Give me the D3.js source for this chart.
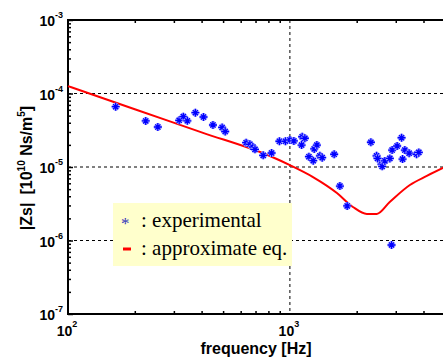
<!DOCTYPE html>
<html>
<head>
<meta charset="utf-8">
<title>|Zs| vs frequency</title>
<script src="https://d3js.org/d3.v7.min.js"></script>
<style>
  body { margin: 0; background: #fff; }
  text { font-family: "Liberation Sans", Arial, sans-serif; font-weight: bold; }
</style>
</head>
<body>
<div id="chart"></div>
<script>
// experimental points (frequency in Hz, |Zs|)
var expFreq = [164, 224, 254, 317, 331, 345, 375, 408, 450, 495, 511, 635, 660, 681, 696, 758, 827,
  897, 955, 1000, 1042, 1136, 1168, 1129, 1287, 1323, 1218, 1274, 1365, 1398, 1583, 1680, 1812,
  2317, 2458, 2483, 2588, 2605, 2679, 2821, 2889, 3043, 3186, 3296, 3446, 3219, 3722, 3811, 2871];
var expZs = [6.61e-5, 4.23e-5, 3.50e-5, 4.32e-5, 4.84e-5, 4.25e-5, 5.48e-5, 4.79e-5, 3.73e-5, 3.45e-5, 3.04e-5,
  2.14e-5, 2.04e-5, 1.87e-5, 1.74e-5, 1.44e-5, 1.55e-5,
  2.24e-5, 2.24e-5, 2.33e-5, 2.26e-5, 2.58e-5, 2.46e-5, 1.99e-5, 1.76e-5, 1.99e-5, 1.38e-5, 1.22e-5,
  1.42e-5, 1.34e-5, 1.49e-5, 5.51e-6, 2.95e-6,
  2.17e-5, 1.42e-5, 1.31e-5, 1.09e-5, 1.02e-5, 1.21e-5, 1.31e-5, 1.70e-5, 1.93e-5, 2.50e-5, 1.70e-5,
  1.54e-5, 1.28e-5, 1.49e-5, 1.58e-5, 8.69e-7];

// approximate equation curve
var approxFreq = [100, 200, 400, 813, 1000, 1271, 1629, 1923, 2222, 2464, 2818, 3473, 4141, 5000];
var approxZs = [1.26e-4, 6.1e-5, 2.96e-5, 1.41e-5, 1.06e-5, 7.3e-6, 4.43e-6, 2.86e-6, 2.30e-6, 2.30e-6,
  3.34e-6, 5.69e-6, 7.55e-6, 1.0e-5];

var yTickExp = [-7, -6, -5, -4, -3];
var xTickExp = [2, 3];
var legendLabels = [': experimental', ': approximate eq.'];

var width = 443, height = 361;
var pL = 68, pR = 445, pT = 20, pB = 314;

var x = d3.scaleLog().domain([100, 5000]).range([pL, pR]);
var y = d3.scaleLog().domain([1e-7, 1e-3]).range([pB, pT]);

var svg = d3.select('#chart').append('svg')
  .attr('width', width)
  .attr('height', height);

// minor tick positions
var xMinor = [], yMinor = [];
for (var k = 2; k <= 9; k++) {
  xMinor.push(k * 100);
  if (k * 1000 < 5000) xMinor.push(k * 1000);
}
yTickExp.slice(0, -1).forEach(function (e) {
  for (var k = 2; k <= 9; k++) yMinor.push(k * Math.pow(10, e));
});

// grid lines at decades
var grid = svg.append('g').attr('stroke', '#000').attr('stroke-width', 1).attr('stroke-dasharray', '3,3');
grid.selectAll('line.h')
  .data(yTickExp.slice(1, -1))
  .enter().append('line')
  .attr('x1', pL).attr('x2', pR)
  .attr('y1', function (d) { return y(Math.pow(10, d)); })
  .attr('y2', function (d) { return y(Math.pow(10, d)); });
grid.selectAll('line.v')
  .data([3])
  .enter().append('line')
  .attr('y1', pT).attr('y2', pB)
  .attr('x1', function (d) { return x(Math.pow(10, d)); })
  .attr('x2', function (d) { return x(Math.pow(10, d)); });

// ticks (inside)
function tickStyle(g) {
  g.select('.domain').remove();
  g.selectAll('line').attr('stroke', '#000').attr('stroke-width', 1.5);
}
svg.append('g').attr('transform', 'translate(' + pL + ',0)')
  .call(d3.axisLeft(y).tickValues(yMinor).tickSize(-3).tickFormat(''))
  .call(tickStyle);
svg.append('g').attr('transform', 'translate(' + pL + ',0)')
  .call(d3.axisLeft(y).tickValues(yTickExp.map(function (e) { return Math.pow(10, e); })).tickSize(-5).tickFormat(''))
  .call(tickStyle);
svg.append('g').attr('transform', 'translate(0,' + pB + ')')
  .call(d3.axisBottom(x).tickValues(xMinor).tickSize(-3).tickFormat(''))
  .call(tickStyle);
svg.append('g').attr('transform', 'translate(0,' + pT + ')')
  .call(d3.axisTop(x).tickValues(xMinor).tickSize(-3).tickFormat(''))
  .call(tickStyle);

// frame
svg.append('rect')
  .attr('x', pL).attr('y', pT)
  .attr('width', pR - pL).attr('height', pB - pT)
  .attr('fill', 'none').attr('stroke', '#000').attr('stroke-width', 2);

// tick labels
var yl = svg.selectAll('text.yl')
  .data(yTickExp)
  .enter().append('text')
  .attr('text-anchor', 'end')
  .attr('x', 63)
  .attr('y', function (d) { return y(Math.pow(10, d)) + 6; })
  .attr('font-size', 14);
yl.append('tspan').text('10');
yl.append('tspan').attr('dy', -8).attr('font-size', 9).text(function (d) { return d; });

var xl = svg.selectAll('text.xl')
  .data(xTickExp)
  .enter().append('text')
  .attr('text-anchor', 'middle')
  .attr('x', function (d) { return x(Math.pow(10, d)) - 1; })
  .attr('y', 336)
  .attr('font-size', 14);
xl.append('tspan').text('10');
xl.append('tspan').attr('dy', -9).attr('font-size', 9).text(function (d) { return d; });

// axis titles
svg.append('text')
  .attr('x', 256).attr('y', 354)
  .attr('text-anchor', 'middle')
  .attr('font-size', 16)
  .text('frequency [Hz]');

var yt = svg.append('text')
  .attr('transform', 'translate(32,168) rotate(-90)')
  .attr('text-anchor', 'middle')
  .attr('font-size', 16);
yt.append('tspan').text('|Zs|');
yt.append('tspan').attr('dx', 8).text('[10');
yt.append('tspan').attr('dy', -7).attr('font-size', 10).text('10');
yt.append('tspan').attr('dy', 7).text(' Ns/m');
yt.append('tspan').attr('dy', -7).attr('font-size', 10).text('5');
yt.append('tspan').attr('dy', 7).text(']');

// approximate curve
var line = d3.line()
  .x(function (d) { return x(d[0]); })
  .y(function (d) { return y(d[1]); })
  .curve(d3.curveMonotoneX);

svg.append('path')
  .datum(d3.zip(approxFreq, approxZs))
  .attr('d', line)
  .attr('fill', 'none')
  .attr('stroke', '#ff0000')
  .attr('stroke-width', 2);

// experimental markers
var star = 'M-4,0H4M0,-4V4M-2.6,-2.6L2.6,2.6M-2.6,2.6L2.6,-2.6';
var pts = svg.append('g').selectAll('g')
  .data(d3.zip(expFreq, expZs))
  .enter().append('g')
  .attr('transform', function (d) { return 'translate(' + x(d[0]) + ',' + y(d[1]) + ')'; });
pts.append('path').attr('d', star).attr('stroke', '#a8a8ff').attr('stroke-width', 3).attr('fill', 'none');
pts.append('path').attr('d', star).attr('stroke', '#0000ff').attr('stroke-width', 1.3).attr('fill', 'none');

// legend box
var lg = svg.append('g');
lg.append('rect')
  .attr('x', 113).attr('y', 203).attr('width', 179).attr('height', 63)
  .attr('fill', '#ffffcc');
lg.selectAll('text.lg')
  .data(legendLabels)
  .enter().append('text')
  .attr('x', 141)
  .attr('y', function (d, i) { return 227 + i * 28; })
  .attr('font-size', 21)
  .style('font-family', '"Liberation Serif", "Times New Roman", serif')
  .style('font-weight', 'normal')
  .text(function (d) { return d; });
lg.append('text')
  .attr('x', 121).attr('y', 229)
  .attr('font-size', 17)
  .style('font-family', '"Liberation Serif", "Times New Roman", serif')
  .style('font-weight', 'normal')
  .attr('fill', '#3333bb')
  .text('*');
lg.append('line')
  .attr('x1', 123).attr('x2', 131).attr('y1', 249).attr('y2', 249)
  .attr('stroke', '#ff0000').attr('stroke-width', 3);
</script>
</body>
</html>
